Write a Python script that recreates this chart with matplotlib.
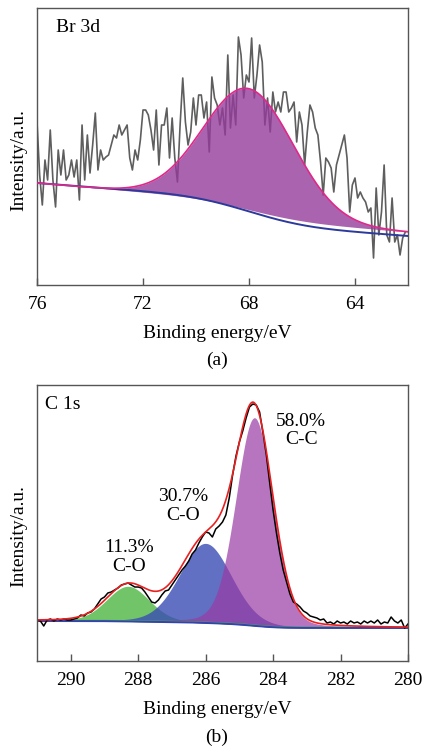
import numpy as np
import matplotlib.pyplot as plt

plt.rcParams['font.family'] = ['Liberation Serif', 'DejaVu Serif']
plt.rcParams['font.size'] = 14

# ---- Br 3d: raw counts, 76.0 -> 62.1 eV, 0.1 eV step ----
br_counts = [
    163, 110, 80, 125, 105, 155, 105, 78, 135, 110,
    135, 105, 110, 125, 108, 125, 85, 160, 105, 150,
    112, 140, 172, 115, 135, 125, 128, 130, 140, 150,
    147, 160, 150, 155, 160, 127, 115, 135, 125, 145,
    175, 175, 170, 155, 135, 175, 120,
    160, 160, 177, 127, 167, 127, 103, 160, 207, 163,
    140, 153, 187, 160, 190, 190, 167, 183, 133, 208,
    187, 180, 160, 177, 150, 230, 157, 190, 160, 248,
    230, 187, 210, 203, 247, 187, 210, 240, 223, 160,
    187, 153, 193, 173, 183, 173, 193,
    193, 173, 177, 183, 143, 173, 160, 120, 153, 180,
    173, 157, 150, 123, 90, 127, 123, 117, 93, 120,
    130, 140, 150, 127, 73, 100, 107, 87, 93, 87,
    83, 73, 77, 27, 97, 50, 73, 120, 50, 43,
    87, 43, 50, 30, 47, 53,
]
br_energy = np.linspace(76.0, 62.1, len(br_counts))

# fitted Br 3d component and backgrounds
br_center = 68.0
br_fwhm = 4.0
br_height = 121.0
br_fit_bg = [53.0, 2.25, 17.5]      # value at 62 eV, slope per eV, Shirley step
br_shirley_bg = [49.0, 2.0, 25.0]

# ---- C 1s: raw counts, 291.0 -> 280.0 eV, 0.1 eV step ----
c1s_counts = [
    41, 40, 35, 41, 42, 40, 42, 41, 42, 41,
    41, 42, 43, 46, 45, 48, 49, 52, 57, 62,
    64, 68, 69, 71, 73, 76, 77, 78, 76, 74,
    74, 73, 69, 64, 59, 58, 61, 66, 70, 71,
    76, 81, 86, 91, 95, 100, 107, 111, 118, 124,
    129, 128, 124, 132, 135, 139, 146, 163, 186, 205,
    219, 230, 243, 254, 257, 256, 249, 228, 206, 178,
    151, 128, 108, 91, 79, 67, 59, 57, 54, 50,
    48, 45, 44, 43, 41, 42, 38, 39, 37, 40,
    38, 39, 37, 40, 38, 39, 37, 40, 38, 40,
    38, 41, 37, 39, 38, 44, 40, 38, 41, 33,
    37,
]
c1s_energy = np.linspace(291.0, 280.0, len(c1s_counts))

c1s_labels = ['C-C', 'C-O', 'C-O']
c1s_percent = [58.0, 30.7, 11.3]
c1s_centers = [284.55, 286.0, 288.3]
c1s_fwhm = [1.3, 1.8, 1.5]
c1s_lorentz = 0.15                  # Gaussian-Lorentzian mixing
c1s_total_area = 532.0
c1s_bg = [40.0, 33.0]               # high-BE side, low-BE side


def gauss(e, center, fwhm, height):
    sigma = fwhm / (2 * np.sqrt(2 * np.log(2)))
    return height * np.exp(-0.5 * ((e - center) / sigma) ** 2)


def pseudo_voigt(e, center, fwhm, height, eta):
    lor = 1.0 / (1.0 + ((e - center) / (fwhm / 2)) ** 2)
    return eta * height * lor + (1 - eta) * gauss(e, center, fwhm, height)


def shirley_fraction(e, peak):
    # share of the peak area lying at lower binding energy than e
    # (e runs from high to low binding energy)
    cum = np.cumsum(peak[::-1])[::-1]
    return cum / cum[0]


fig = plt.figure(figsize=(4.23, 7.48), dpi=100)
ax_a = fig.add_axes([0.0875, 0.619, 0.877, 0.3703])
ax_b = fig.add_axes([0.0875, 0.1163, 0.877, 0.369])

for ax in (ax_a, ax_b):
    for sp in ax.spines.values():
        sp.set_color('#555555')
        sp.set_linewidth(1.0)
    ax.set_yticks([])
    ax.tick_params(axis='x', direction='in', length=5, width=1.0,
                   color='#555555', pad=8, labelsize=14)

# ---------- (a) Br 3d ----------
e_a = np.linspace(76.0, 62.0, 700)
br_peak = gauss(e_a, br_center, br_fwhm, br_height)
frac_a = shirley_fraction(e_a, br_peak)
fit_bg = br_fit_bg[0] + br_fit_bg[1] * (e_a - 62.0) + br_fit_bg[2] * frac_a
shirley = br_shirley_bg[0] + br_shirley_bg[1] * (e_a - 62.0) + br_shirley_bg[2] * frac_a

ax_a.plot(br_energy, br_counts, color='#5e5e5e', lw=1.2, zorder=1)
ax_a.fill_between(e_a, fit_bg, fit_bg + br_peak, color='#953d9b', alpha=0.8,
                  lw=0, zorder=2)
ax_a.plot(e_a, shirley, color='#2c3a9c', lw=1.4, zorder=3)
ax_a.plot(e_a, fit_bg + br_peak, color='#e0288a', lw=1.2, zorder=4)

ax_a.set_xlim(76, 62)
ax_a.set_ylim(0, 277)
ax_a.set_xticks([76, 72, 68, 64])
ax_a.text(0.051, 0.931, 'Br 3d', transform=ax_a.transAxes, va='center', ha='left')
ax_a.set_ylabel('Intensity/a.u.')
ax_a.yaxis.set_label_coords(-0.027, 0.451)

# ---------- (b) C 1s ----------
e_b = np.linspace(291.0, 280.0, 800)
area_factor = c1s_lorentz * np.pi / 2 + (1 - c1s_lorentz) * np.sqrt(np.pi / (4 * np.log(2)))
heights = [p / 100 * c1s_total_area / (w * area_factor)
           for p, w in zip(c1s_percent, c1s_fwhm)]
comps = [pseudo_voigt(e_b, c, w, h, c1s_lorentz)
         for c, w, h in zip(c1s_centers, c1s_fwhm, heights)]
total = np.sum(comps, axis=0)
bg_b = c1s_bg[1] + (c1s_bg[0] - c1s_bg[1]) * shirley_fraction(e_b, total)

fill_styles = [('#9a3aa4', 0.7), ('#3a4cb4', 0.8), ('#35ad28', 0.7)]
for idx in (2, 1, 0):
    col, a = fill_styles[idx]
    ax_b.fill_between(e_b, bg_b, bg_b + comps[idx], color=col, alpha=a, lw=0)

ax_b.plot(e_b, bg_b + 0.8, color='#4caf50', lw=0.8)
ax_b.plot(e_b, bg_b, color='#3344aa', lw=1.4)
ax_b.plot(c1s_energy, c1s_counts, color='black', lw=1.1)
ax_b.plot(e_b, bg_b + total, color='#e82020', lw=1.2)

label_xy = [(283.17, 230.5), (286.67, 155.0), (288.26, 104.0)]
for (x, y), pct, lab in zip(label_xy, c1s_percent, c1s_labels):
    ax_b.text(x, y, f'{pct:.1f}%\n{lab}', ha='center', va='center',
              linespacing=1.15)

ax_b.set_xlim(291, 280)
ax_b.set_ylim(0, 276)
ax_b.set_xticks([290, 288, 286, 284, 282, 280])
ax_b.text(0.0216, 0.928, 'C 1s', transform=ax_b.transAxes, va='center', ha='left')
ax_b.set_ylabel('Intensity/a.u.')
ax_b.yaxis.set_label_coords(-0.027, 0.453)

# shared x captions and panel tags
fig.text(217 / 423, 1 - 333 / 748, 'Binding energy/eV', ha='center', va='center')
fig.text(217 / 423, 1 - 360 / 748, '(a)', ha='center', va='center')
fig.text(217 / 423, 1 - 710 / 748, 'Binding energy/eV', ha='center', va='center')
fig.text(217 / 423, 1 - 737 / 748, '(b)', ha='center', va='center')

fig.savefig('out.png', dpi=100)
